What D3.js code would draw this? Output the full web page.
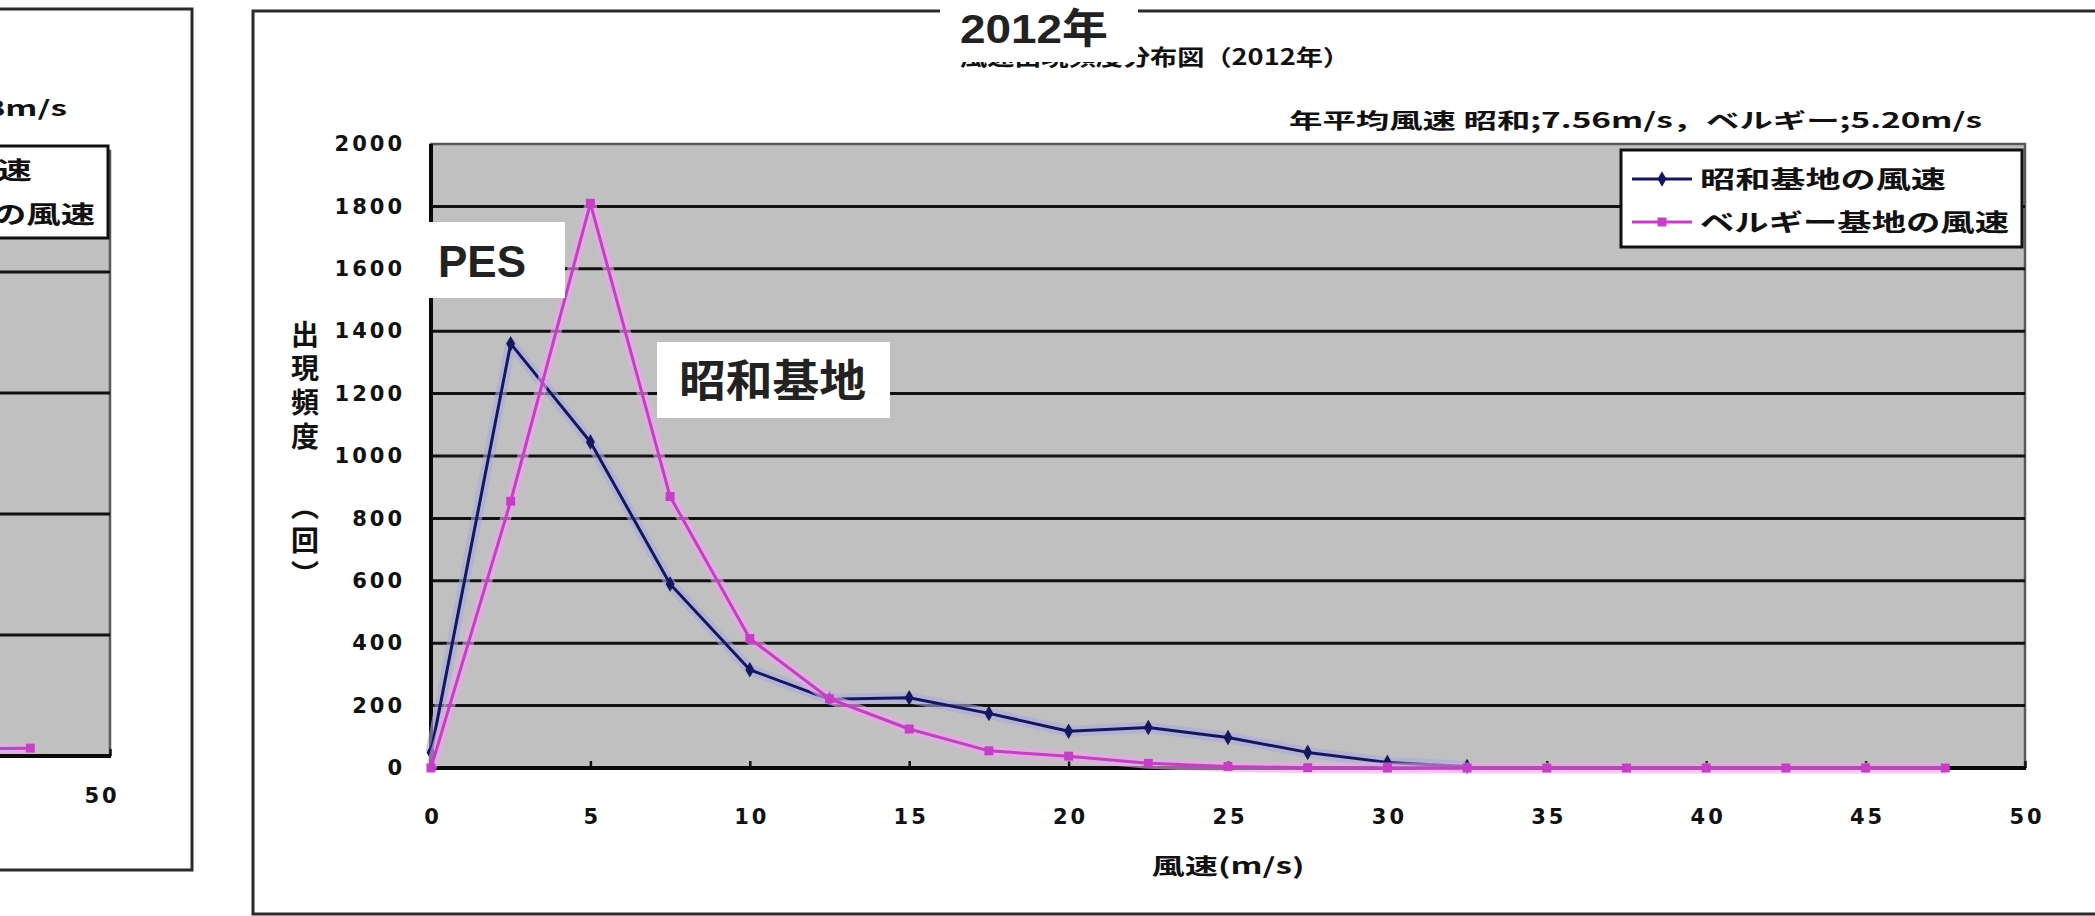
<!DOCTYPE html>
<html>
<head>
<meta charset="utf-8">
<script src="https://cdn.jsdelivr.net/npm/d3@7"></script>
<style>
  html, body { margin: 0; padding: 0; background: #fff; overflow: hidden; }
  svg { display: block; }
</style>
</head>
<body>
<svg id="chart" width="2095" height="916"></svg>
<script>
// ---- data -------------------------------------------------------------
// wind-speed bins (m/s)
const speedBins = [0, 2.5, 5, 7.5, 10, 12.5, 15, 17.5, 20, 22.5, 25, 27.5, 30, 32.5, 35, 37.5, 40, 42.5, 45, 47.5];
// 2012 occurrence counts per bin
const syowa2012 = [50, 1360, 1045, 590, 315, 220, 225, 175, 118, 130, 98, 50, 18, 5];
const pes2012   = [0, 855, 1810, 870, 415, 222, 125, 55, 38, 15, 5, 1, 0, 0, 0, 0, 0, 0, 0, 0];
// previous-year panel: only its right-hand tail is in view
const prevBins = [40, 42.5, 45, 47.5];
const pesPrev  = [10, 9, 11, 13];

const xTicks      = [0, 5, 10, 15, 20, 25, 30, 35, 40, 45, 50];
const yTicks2012  = [0, 200, 400, 600, 800, 1000, 1200, 1400, 1600, 1800, 2000];
const yTicksPrev  = [0, 200, 400, 600, 800, 1000];

const seriesNames = ["昭和基地の風速", "ベルギー基地の風速"];
const chartTitle  = "風速出現頻度分布図（2012年）";
const subtitle2012 = "年平均風速 昭和;7.56m/s，ベルギー;5.20m/s";
const subtitlePrev = "年平均風速 昭和;7.38m/s，ベルギー;5.08m/s";
const yTitleMain = "出現頻度";
const yTitleUnit = "（回）";
const xTitle = "風速(m/s)";
const yearTag = "2012年";
const tagPES = "PES";
const tagSyowa = "昭和基地";

// ---- styling ----------------------------------------------------------
const CJK = "'Noto Sans CJK JP','Noto Sans CJK SC',sans-serif";
const LAT = "'Liberation Sans','Noto Sans CJK JP',sans-serif";
const NUM = "'DejaVu Sans',sans-serif";
const BLUE = "#16165e", BLUE_HALO = "#a9a9dd";
const PINK = "#c63ec6", PINK_HALO = "#eaa6ea";

const svg = d3.select("#chart");

function pairs(xs, ys) { return ys.map((v, i) => [xs[i], v]); }

function drawPanel(p) {
  const g = svg.append("g");

  // chart frame
  g.append("rect")
    .attr("x", p.frame[0]).attr("y", p.frame[1])
    .attr("width", p.frame[2] - p.frame[0]).attr("height", p.frame[3] - p.frame[1])
    .attr("fill", "#fff").attr("stroke", "#2b2b2b").attr("stroke-width", 3);

  const x = d3.scaleLinear().domain([0, 50]).range([p.plot.l, p.plot.r]);
  const y = d3.scaleLinear().domain([0, p.yMax]).range([p.plot.b, p.plot.t]);

  // plot area
  g.append("rect")
    .attr("x", p.plot.l).attr("y", p.plot.t)
    .attr("width", p.plot.r - p.plot.l).attr("height", p.plot.b - p.plot.t)
    .attr("fill", "#c0c0c0").attr("stroke", "#5a5a5a").attr("stroke-width", 2.5);

  // horizontal gridlines
  g.append("g").selectAll("line")
    .data(p.yTicks.filter(v => v > 0 && v < p.yMax))
    .join("line")
    .attr("x1", p.plot.l).attr("x2", p.plot.r)
    .attr("y1", d => y(d)).attr("y2", d => y(d))
    .attr("stroke", "#111").attr("stroke-width", 3);

  // y axis labels
  const ya = g.append("g")
    .attr("transform", `translate(${p.plot.l},0)`)
    .call(d3.axisLeft(y).tickValues(p.yTicks).tickSize(0).tickPadding(26).tickFormat(d3.format("d")));
  ya.select(".domain").remove();
  ya.attr("font-family", NUM).attr("font-size", 21).attr("font-weight", "bold");
  ya.selectAll("text").attr("fill", "#111").attr("letter-spacing", 3);

  // x axis: inside ticks + labels
  const xa = g.append("g")
    .attr("transform", `translate(0,${p.plot.b})`)
    .call(d3.axisBottom(x).tickValues(xTicks).tickSize(-7).tickPadding(p.xLabelPad).tickFormat(d3.format("d")));
  xa.select(".domain").remove();
  xa.attr("font-family", NUM).attr("font-size", 21).attr("font-weight", "bold");
  xa.selectAll("line").attr("stroke", "#111").attr("stroke-width", 2.5);
  xa.selectAll("text").attr("fill", "#111").attr("letter-spacing", 3).attr("dx", 1.5 + p.xLabelShift);

  // axis lines
  g.append("line")
    .attr("x1", p.plot.l).attr("x2", p.plot.l)
    .attr("y1", p.plot.t).attr("y2", p.plot.b + 2)
    .attr("stroke", "#0a0a0a").attr("stroke-width", 4);
  g.append("line")
    .attr("x1", p.plot.l - 2).attr("x2", p.plot.r + 1)
    .attr("y1", p.plot.b).attr("y2", p.plot.b)
    .attr("stroke", "#0a0a0a").attr("stroke-width", 4);

  // series
  const line = d3.line().x(d => x(d[0])).y(d => y(d[1]));
  p.series.forEach(s => {
    const sg = g.append("g");
    sg.append("path").datum(s.data).attr("d", line)
      .attr("fill", "none").attr("stroke", s.halo).attr("stroke-width", 11)
      .attr("stroke-opacity", 0.6).attr("stroke-linejoin", "round");
    sg.append("path").datum(s.data).attr("d", line)
      .attr("fill", "none").attr("stroke", s.color).attr("stroke-width", 3)
      .attr("stroke-linejoin", "round");
    const sym = d3.symbol().type(s.marker).size(s.marker === d3.symbolSquare ? 80 : 70);
    sg.selectAll("path.mk").data(s.data).join("path").attr("class", "mk")
      .attr("transform", d => `translate(${x(d[0])},${y(d[1])})`)
      .attr("d", sym).attr("fill", s.color);
  });

  // subtitle (annual mean wind speed)
  g.append("text")
    .attr("x", p.sub.x).attr("y", p.sub.y)
    .attr("textLength", 693).attr("lengthAdjust", "spacingAndGlyphs")
    .attr("font-family", CJK).attr("font-size", 21).attr("font-weight", "bold")
    .attr("fill", "#111").text(p.sub.text);

  // legend
  const lb = p.legend;
  g.append("rect")
    .attr("x", lb.box[0]).attr("y", lb.box[1])
    .attr("width", lb.box[2] - lb.box[0]).attr("height", lb.box[3] - lb.box[1])
    .attr("fill", "#fff").attr("stroke", "#111").attr("stroke-width", 3);
  p.series.forEach((s, i) => {
    const ly = lb.rows[i];
    const x0 = lb.box[0] + 11;
    g.append("line").attr("x1", x0).attr("x2", x0 + 60).attr("y1", ly).attr("y2", ly)
      .attr("stroke", s.color).attr("stroke-width", 3);
    g.append("path")
      .attr("transform", `translate(${x0 + 30},${ly})`)
      .attr("d", d3.symbol().type(s.marker).size(s.marker === d3.symbolSquare ? 80 : 70))
      .attr("fill", s.color);
    g.append("text")
      .attr("x", lb.box[0] + 79).attr("y", ly + 9)
      .attr("textLength", s.legendLen).attr("lengthAdjust", "spacingAndGlyphs")
      .attr("font-family", CJK).attr("font-size", 24).attr("font-weight", "bold")
      .attr("fill", "#111").text(s.name);
  });

  return { g, x, y };
}

// ---- previous-year panel (cut off at the left edge) -------------------
drawPanel({
  frame: [-20, 9, 192, 870],
  plot: { l: -1484, t: 151, r: 110, b: 756 },
  yMax: 1000,
  yTicks: yTicksPrev,
  xLabelPad: 32,
  xLabelShift: -10,
  sub: { x: -626, y: 116, text: subtitlePrev },
  legend: { box: [-293, 146, 108, 238], rows: [170, 214] },
  series: [
    { name: seriesNames[0], data: [], color: BLUE, halo: BLUE_HALO, marker: d3.symbolDiamond, legendLen: 246 },
    { name: seriesNames[1], data: pairs(prevBins, pesPrev), color: PINK, halo: PINK_HALO, marker: d3.symbolSquare, legendLen: 309 }
  ]
});

// ---- 2012 panel -------------------------------------------------------
const main = drawPanel({
  frame: [253, 11, 2114, 914],
  plot: { l: 431, t: 144, r: 2025, b: 768 },
  yMax: 2000,
  yTicks: yTicks2012,
  xLabelPad: 41,
  xLabelShift: 0,
  sub: { x: 1289, y: 128, text: subtitle2012 },
  legend: { box: [1621, 150, 2022, 247], rows: [179, 222] },
  series: [
    { name: seriesNames[0], data: pairs(speedBins, syowa2012), color: BLUE, halo: BLUE_HALO, marker: d3.symbolDiamond, legendLen: 246 },
    { name: seriesNames[1], data: pairs(speedBins, pes2012), color: PINK, halo: PINK_HALO, marker: d3.symbolSquare, legendLen: 309 }
  ]
});

const mg = main.g;

// chart title (partly covered by the year tag)
mg.append("text")
  .attr("x", 960).attr("y", 65)
  .attr("textLength", 390).attr("lengthAdjust", "spacingAndGlyphs")
  .attr("font-family", CJK).attr("font-size", 22).attr("font-weight", "bold")
  .attr("fill", "#111").text(chartTitle);

// axis titles
mg.append("text")
  .attr("x", 1228).attr("y", 874).attr("text-anchor", "middle")
  .attr("textLength", 153).attr("lengthAdjust", "spacingAndGlyphs")
  .attr("font-family", CJK).attr("font-size", 22).attr("font-weight", "bold")
  .attr("fill", "#111").text(xTitle);

const yTitleG = mg.append("g")
  .attr("font-family", CJK).attr("font-size", 28).attr("font-weight", "bold")
  .attr("fill", "#111").attr("letter-spacing", 6);
yTitleG.append("text")
  .attr("x", 305).attr("y", 320)
  .style("writing-mode", "vertical-rl")
  .text(yTitleMain);
yTitleG.append("text")
  .attr("x", 305).attr("y", 492)
  .style("writing-mode", "vertical-rl")
  .text(yTitleUnit);

// year tag over the title
mg.append("rect").attr("x", 940).attr("y", 0).attr("width", 198).attr("height", 62).attr("fill", "#fff");
mg.append("text")
  .attr("x", 960).attr("y", 43)
  .attr("textLength", 148).attr("lengthAdjust", "spacingAndGlyphs")
  .attr("font-family", LAT).attr("font-size", 41).attr("font-weight", "bold")
  .attr("fill", "#222").text(yearTag);

// station tags
mg.append("rect").attr("x", 418).attr("y", 222).attr("width", 147).attr("height", 76).attr("fill", "#fff");
mg.append("text")
  .attr("x", 438).attr("y", 277)
  .attr("font-family", LAT).attr("font-size", 44).attr("font-weight", "bold")
  .attr("fill", "#222").text(tagPES);

mg.append("rect").attr("x", 657).attr("y", 342).attr("width", 233).attr("height", 76).attr("fill", "#fff");
mg.append("text")
  .attr("x", 679).attr("y", 397)
  .attr("textLength", 187).attr("lengthAdjust", "spacingAndGlyphs")
  .attr("font-family", CJK).attr("font-size", 44).attr("font-weight", "bold")
  .attr("fill", "#222").text(tagSyowa);
</script>
</body>
</html>
